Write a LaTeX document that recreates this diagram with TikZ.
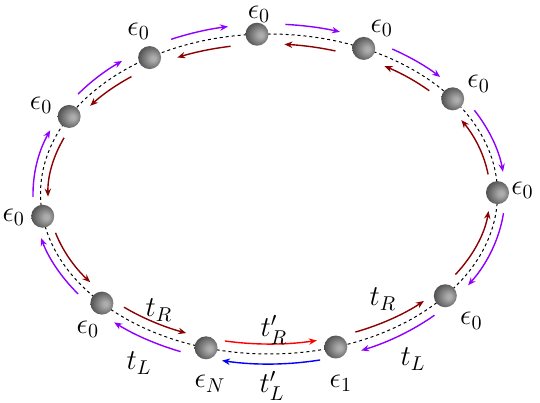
\documentclass[tikz,border=0pt]{standalone}
\usepackage{amsmath,amssymb}
\usepackage{tikz}
\usetikzlibrary{arrows.meta,positioning,calc}
\definecolor{hopviolet}{HTML}{8F00FF}
\definecolor{hopred}{HTML}{8B0000}
\definecolor{impred}{HTML}{FF0000}
\definecolor{impblue}{HTML}{0000FF}
\pgfdeclareradialshading{sitebulb}{\pgfpoint{9bp}{-2bp}}{%
  color(0bp)=(gray!62);color(6bp)=(gray!68);color(34bp)=(black!76);color(50bp)=(black!76)}

\begin{document}
\begin{tikzpicture}[
  site/.style={circle,minimum size=11.5pt,inner sep=0pt,shading=sitebulb},
  ring/.style={dash pattern=on 1.5pt off 1.5pt,line width=0.5pt},
  hop/.style={line width=0.7pt,-{Stealth[length=4pt,width=3.2pt]}},
  onsite/.style={font=\Large,inner sep=1pt},
  amp/.style={font=\Large,inner sep=0pt},
]
  \useasboundingbox (0,0) rectangle (270pt,201pt);
  \coordinate (c) at (134.5pt,104pt);

  % the ring
  \draw[ring] (c) ellipse[x radius=114.25pt,y radius=80pt];

  % hoppings: outer clockwise, inner anticlockwise
  \foreach \a/\b/\co/\ci/\g in {151/121.5/hopviolet/hopred/7, 121.5/93/hopviolet/hopred/7,
      93/65.5/hopviolet/hopred/7, 65.5/36.5/hopviolet/hopred/7, 36.5/0.5/hopviolet/hopred/7,
      0.5/-39.5/hopviolet/hopred/7, -39.5/-73/hopviolet/hopred/6, -73/-106/impblue/impred/4.5,
      -106/-137/hopviolet/hopred/6, -137/-172/hopviolet/hopred/7, -172/-209/hopviolet/hopred/7}{
    \draw[hop,\co] ([shift={(\a-\g:118pt and 85pt)}]c)
      arc[start angle=\a-\g,end angle=\b+\g,x radius=118pt,y radius=85pt];
    \draw[hop,\ci] ([shift={(\b+\g:110.5pt and 75pt)}]c)
      arc[start angle=\b+\g,end angle=\a-\g,x radius=110.5pt,y radius=75pt];
  }

  % sites
  \node[site] (s1)  at ($(c)+(93:114.25pt and 80pt)$)   {};
  \node[site] (s2)  at ($(c)+(65.5:114.25pt and 80pt)$) {};
  \node[site] (s3)  at ($(c)+(36.5:114.25pt and 80pt)$) {};
  \node[site] (s4)  at ($(c)+(0.5:114.25pt and 80pt)$)  {};
  \node[site] (s5)  at ($(c)+(-39.5:114.25pt and 80pt)$) {};
  \node[site] (s6)  at ($(c)+(-73:114.25pt and 80pt)$)  {};
  \node[site] (s7)  at ($(c)+(-106:114.25pt and 80pt)$) {};
  \node[site] (s8)  at ($(c)+(-137:114.25pt and 80pt)$) {};
  \node[site] (s9)  at ($(c)+(-172:114.25pt and 80pt)$) {};
  \node[site] (s10) at ($(c)+(151:114.25pt and 80pt)$)  {};
  \node[site] (s11) at ($(c)+(121.5:114.25pt and 80pt)$) {};

  % on-site energies
  \node[onsite] (e1)  at ($(s1)+(1pt,9.8pt)$)     {$\epsilon_0$};
  \node[onsite] (e2)  at ($(s2)+(9pt,10pt)$)      {$\epsilon_0$};
  \node[onsite] (e3)  at ($(s3)+(13pt,7.5pt)$)    {$\epsilon_0$};
  \node[onsite] (e4)  at ($(s4)+(12.5pt,1pt)$)    {$\epsilon_0$};
  \node[onsite] (e5)  at ($(s5)+(13pt,-12.5pt)$)  {$\epsilon_0$};
  \node[onsite] (e6)  at ($(s6)+(2.5pt,-18pt)$)   {$\epsilon_1$};
  \node[onsite] (e7)  at ($(s7)+(2pt,-18pt)$)     {$\epsilon_N$};
  \node[onsite] (e8)  at ($(s8)+(-7pt,-13pt)$)    {$\epsilon_0$};
  \node[onsite] (e9)  at ($(s9)+(-14.5pt,-0.5pt)$) {$\epsilon_0$};
  \node[onsite] (e10) at ($(s10)+(-14pt,5.5pt)$)  {$\epsilon_0$};
  \node[onsite] (e11) at ($(s11)+(-5.5pt,13pt)$)  {$\epsilon_0$};

  % hopping amplitudes
  \node[amp] (tr1) at (79.5pt,46pt)    {$t_R$};
  \node[amp] (tl1) at (69.5pt,19.5pt)  {$t_L$};
  \node[amp] (trp) at (137pt,36pt)     {$t'_R$};
  \node[amp] (tlp) at (136pt,8pt)      {$t'_L$};
  \node[amp] (tr2) at (191.5pt,51.5pt) {$t_R$};
  \node[amp] (tl2) at (206.5pt,21.5pt) {$t_L$};
\end{tikzpicture}
\end{document}
